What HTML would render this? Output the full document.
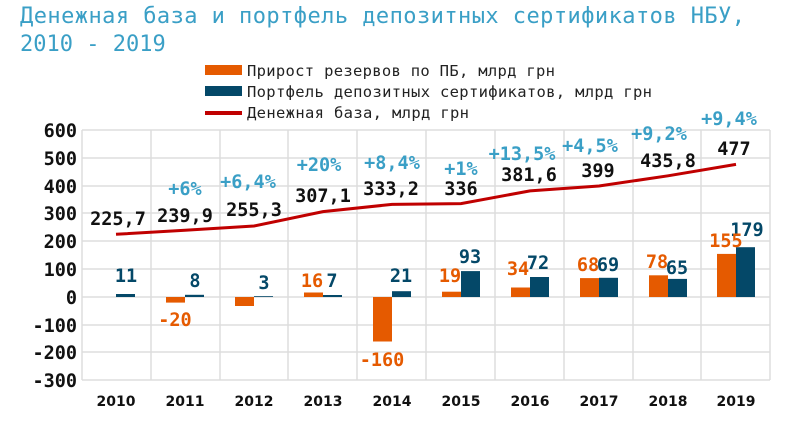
<!DOCTYPE html><html><head><meta charset="utf-8"><style>body{margin:0;background:#fff}svg{display:block}</style></head><body>
<svg width="800" height="421" xmlns="http://www.w3.org/2000/svg" font-family="'DejaVu Sans Mono','Liberation Mono',monospace">
<text x="20" y="23" font-size="22" fill="#3a9fc6" textLength="725" lengthAdjust="spacing">Денежная база и портфель депозитных сертификатов НБУ,</text>
<text x="20" y="51" font-size="22" fill="#3a9fc6">2010 - 2019</text>
<rect x="205" y="65" width="37" height="10" fill="#e55a00"/>
<text x="247" y="76" font-size="15.5" fill="#222" textLength="308" lengthAdjust="spacing">Прирост резервов по ПБ, млрд грн</text>
<rect x="205" y="86" width="37" height="10" fill="#044868"/>
<text x="247" y="97" font-size="15.5" fill="#222" textLength="405" lengthAdjust="spacing">Портфель депозитных сертификатов, млрд грн</text>
<rect x="205" y="111" width="37" height="4" fill="#c00000"/>
<text x="247" y="118" font-size="15.5" fill="#222" textLength="222" lengthAdjust="spacing">Денежная база, млрд грн</text>
<g stroke="#ddd" stroke-width="1.5">
<line x1="82" y1="130" x2="770" y2="130"/><line x1="82" y1="158" x2="770" y2="158"/><line x1="82" y1="186" x2="770" y2="186"/><line x1="82" y1="213" x2="770" y2="213"/><line x1="82" y1="241" x2="770" y2="241"/><line x1="82" y1="269" x2="770" y2="269"/><line x1="82" y1="297" x2="770" y2="297"/><line x1="82" y1="325" x2="770" y2="325"/><line x1="82" y1="352" x2="770" y2="352"/><line x1="82" y1="380" x2="770" y2="380"/>
<line x1="82" y1="130" x2="82" y2="380"/><line x1="151" y1="130" x2="151" y2="380"/><line x1="220" y1="130" x2="220" y2="380"/><line x1="288" y1="130" x2="288" y2="380"/><line x1="357" y1="130" x2="357" y2="380"/><line x1="426" y1="130" x2="426" y2="380"/><line x1="495" y1="130" x2="495" y2="380"/><line x1="564" y1="130" x2="564" y2="380"/><line x1="633" y1="130" x2="633" y2="380"/><line x1="701" y1="130" x2="701" y2="380"/><line x1="770" y1="130" x2="770" y2="380"/>
</g>
<g font-size="18.5" font-weight="bold" fill="#111" text-anchor="end">
<text x="77" y="137">600</text><text x="77" y="165">500</text><text x="77" y="193">400</text><text x="77" y="220">300</text><text x="77" y="248">200</text><text x="77" y="276">100</text><text x="77" y="304">0</text><text x="77" y="332">-100</text><text x="77" y="359">-200</text><text x="77" y="387">-300</text>
</g>
<g font-family="'DejaVu Sans',sans-serif" font-size="14" font-weight="bold" fill="#111" text-anchor="middle">
<text x="116" y="406">2010</text><text x="185" y="406">2011</text><text x="254" y="406">2012</text><text x="323" y="406">2013</text><text x="392" y="406">2014</text><text x="461" y="406">2015</text><text x="530" y="406">2016</text><text x="599" y="406">2017</text><text x="668" y="406">2018</text><text x="736" y="406">2019</text>
</g>
<g fill="#e55a00">
<rect x="166" y="297" width="19" height="5.6"/><rect x="235" y="297" width="19" height="9"/><rect x="304" y="292.5" width="19" height="4.5"/><rect x="373" y="297" width="19" height="44.5"/><rect x="442" y="291.7" width="19" height="5.3"/><rect x="511" y="287.5" width="19" height="9.5"/><rect x="580" y="278.1" width="19" height="18.9"/><rect x="649" y="275.3" width="19" height="21.7"/><rect x="717" y="253.9" width="19" height="43.1"/>
</g>
<g fill="#044868">
<rect x="116" y="294" width="19" height="3"/><rect x="185" y="294.8" width="19" height="2.2"/><rect x="254" y="296.2" width="19" height="0.8"/><rect x="323" y="295" width="19" height="2"/><rect x="392" y="291.2" width="19" height="5.8"/><rect x="461" y="271.1" width="19" height="25.9"/><rect x="530" y="277" width="19" height="20"/><rect x="599" y="277.8" width="19" height="19.2"/><rect x="668" y="278.9" width="19" height="18.1"/><rect x="736" y="247.2" width="19" height="49.8"/>
</g>
<polyline fill="none" stroke="#c00000" stroke-width="3" points="116,234.3 185,230.3 254,226 323,211.6 392,204.4 461,203.6 530,190.9 599,186 668,175.8 736,164.4"/>
<g font-size="18.5" font-weight="bold" text-anchor="middle">
<g fill="#111">
<text x="118" y="225">225,7</text><text x="185" y="222">239,9</text><text x="254" y="216">255,3</text><text x="323" y="202">307,1</text><text x="391" y="195">333,2</text><text x="461" y="195">336</text><text x="529" y="181">381,6</text><text x="598" y="177">399</text><text x="668" y="167">435,8</text><text x="734" y="155">477</text>
</g>
<g fill="#3a9fc6">
<text x="185" y="195">+6%</text><text x="248" y="188">+6,4%</text><text x="319" y="171">+20%</text><text x="392" y="169">+8,4%</text><text x="461" y="175">+1%</text><text x="522" y="160">+13,5%</text><text x="590" y="152">+4,5%</text><text x="659" y="140">+9,2%</text><text x="729" y="125">+9,4%</text>
</g>
<g fill="#044868">
<text x="126" y="282">11</text><text x="195" y="287">8</text><text x="264" y="289">3</text><text x="332" y="287">7</text><text x="401" y="282">21</text><text x="470" y="263">93</text><text x="538" y="269">72</text><text x="608" y="271">69</text><text x="677" y="274">65</text><text x="747" y="236">179</text>
</g>
<g fill="#e55a00">
<text x="175" y="326">-20</text><text x="312" y="287">16</text><text x="382" y="366">-160</text><text x="450" y="282">19</text><text x="518" y="275">34</text><text x="588" y="271">68</text><text x="657" y="268">78</text><text x="726" y="247">155</text>
</g>
</g>
</svg>
</body></html>
